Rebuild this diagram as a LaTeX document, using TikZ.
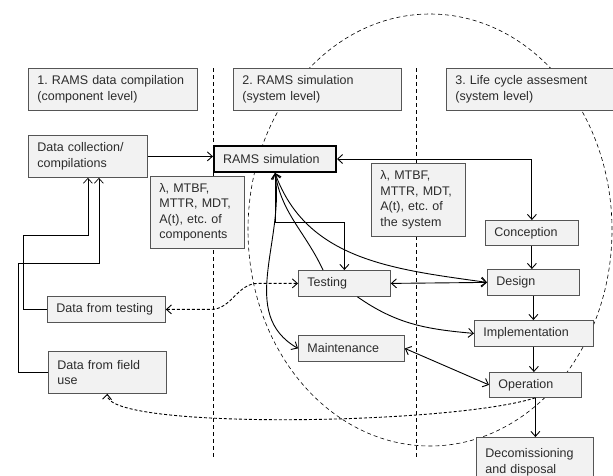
\documentclass[tikz,border=0pt]{standalone}
\usepackage{fontspec}
\setmainfont{Liberation Sans}
\usetikzlibrary{arrows.meta}
\frenchspacing
\definecolor{boxfill}{HTML}{F2F2F2}
\definecolor{boxline}{HTML}{555555}
\definecolor{txt}{HTML}{2B2B2B}
\tikzset{
  box/.style={draw=boxline, fill=boxfill, text=txt, line width=0.8pt, anchor=north west,
    align=left, inner xsep=9pt, inner ysep=3pt, font=\fontsize{12.5}{15.5}\selectfont},
  flow/.style={-{Straight Barb[length=5pt,width=9pt]}, line width=0.9pt},
  flowboth/.style={{Straight Barb[length=5pt,width=9pt]}-{Straight Barb[length=5pt,width=9pt]}, line width=0.9pt},
  feedback/.style={dash pattern=on 3pt off 2pt, line width=0.9pt},
  zone/.style={dash pattern=on 4pt off 3pt, line width=0.6pt}
}
\begin{document}
\begin{tikzpicture}[x=1pt,y=1pt]
\useasboundingbox (0,0) rectangle (613,-475);
\clip (0,0) rectangle (613,-475);
\draw[zone] (213,-68) -- (213,-458);
\draw[zone] (416,-68) -- (416,-458);
\draw[zone] (430,-230) ellipse [x radius=182, y radius=216];

\node[box, text width=151, minimum height=42] (h1) at (28,-68) {1. RAMS data compilation\\(component level)};
\node[box, text width=150, minimum height=42] (h2) at (233,-68) {2. RAMS simulation\\(system level)};
\node[box, text width=156, minimum height=42] (h3) at (446,-68) {3. Life cycle assesment\\(system level)};

\node[box, text width=101, minimum height=42] (collect) at (28,-135) {Data collection/\\compilations};
\node[box, text width=104, minimum height=26, draw=black, line width=2pt] (rams) at (213,-145) {RAMS simulation};
\node[box, text width=76, minimum height=72] (lamc) at (150,-176) {λ, MTBF,\\MTTR, MDT,\\A(t), etc. of\\components};
\node[box, text width=76, minimum height=73] (lams) at (371,-163) {λ, MTBF,\\MTTR, MDT,\\A(t), etc. of\\the system};

\node[box, text width=75, minimum height=25] (concep) at (485,-220) {Conception};
\node[box, text width=74, minimum height=26] (design) at (487,-269) {Design};
\node[box, text width=101, minimum height=26] (impl) at (474,-320) {Implementation};
\node[box, text width=74, minimum height=25] (oper) at (489,-372) {Operation};
\node[box, text width=99, minimum height=50] (decom) at (476,-437) {Decomissioning\\and disposal};

\node[box, text width=74, minimum height=26] (test) at (298,-270) {Testing};
\node[box, text width=88, minimum height=26] (maint) at (298,-335) {Maintenance};
\node[box, text width=100, minimum height=26] (dtest) at (47,-296) {Data from testing};
\node[box, text width=100, minimum height=42] (dfield) at (48,-351) {Data from field\\use};

\draw[flow] (collect.east) -- (collect.east -| rams.west);
\draw[flowboth] (rams.east) -| (concep.north);
\draw[flow] (concep.south) -- (concep.south |- design.north);
\draw[flow] (design.south) -- (design.south |- impl.north);
\draw[flow] (impl.south) -- (impl.south |- oper.north);
\draw[flow] (oper.south) -- (oper.south |- decom.north);

\draw[flow] (rams.south) -- ++(0,-49) -| (test.north);
\draw[flow] ([xshift=25pt]test.north west) to[out=115,in=-80] (rams.south);
\draw[flowboth] (rams.south) to[out=-70,in=172] (design.west);
\draw[flowboth] (rams.south) to[out=-82,in=150] (maint.west);
\draw[flowboth] (test.east) -- (design.west);
\draw[flow] ([xshift=13pt]test.south) to[out=-35,in=175] (impl.west);
\draw[flowboth] (maint.east) -- (oper.west);

\draw[feedback, flowboth] (dtest.east) -- ++(45,0) to[out=0,in=180] ([xshift=-40pt]test.west) -- (test.west);
\draw[feedback, flow] (oper.south) .. controls (450,-425) and (105,-430) .. (dfield.south);

\draw[flow, line width=0.7pt] (dtest.west) -- ++(-24,0) -- ++(0,74) -| (collect.south);
\draw[flow, line width=0.7pt] (dfield.west) -- ++(-30,0) -- ++(0,109) -| ([xshift=11pt]collect.south);
\end{tikzpicture}
\end{document}
